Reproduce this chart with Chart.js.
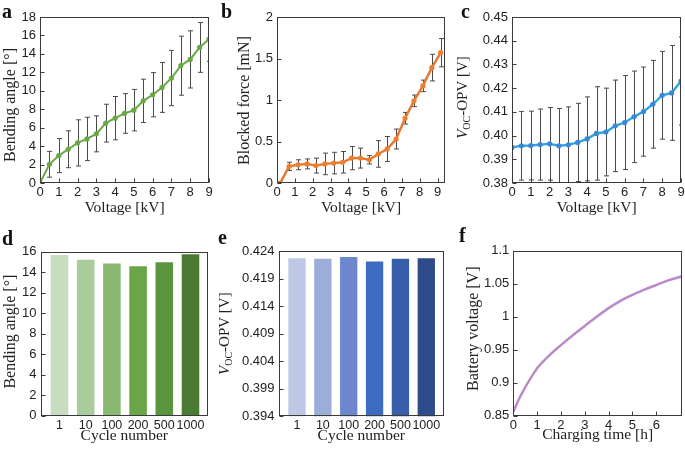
<!DOCTYPE html>
<html>
<head>
<meta charset="utf-8">
<script src="https://cdn.jsdelivr.net/npm/chart.js@4.4.1/dist/chart.umd.min.js"></script>
<style>
  body { margin: 0; background: #fff; }
  #wrap { position: relative; width: 685px; height: 450px; overflow: hidden; }
  #wrap canvas { position: absolute; left: 0; top: 0; }
  .tag { position: absolute; font: bold 20px "Liberation Serif", serif; line-height: 1; color: #111; }
</style>
</head>
<body>
<div id="wrap">
  <canvas id="ca" width="685" height="450"></canvas>
  <canvas id="cb" width="685" height="450"></canvas>
  <canvas id="cc" width="685" height="450"></canvas>
  <canvas id="cd" width="685" height="450"></canvas>
  <canvas id="ce" width="685" height="450"></canvas>
  <canvas id="cf" width="685" height="450"></canvas>
  <div class="tag" style="left:2px;top:1px">a</div>
  <div class="tag" style="left:221px;top:1px">b</div>
  <div class="tag" style="left:461px;top:1px">c</div>
  <div class="tag" style="left:2px;top:228px">d</div>
  <div class="tag" style="left:218px;top:227px">e</div>
  <div class="tag" style="left:459px;top:225px">f</div>
</div>
<script>
// ---- data ----
// a: bending angle vs voltage
const aX = [0, 0.5, 1, 1.5, 2, 2.5, 3, 3.5, 4, 4.5, 5, 5.5, 6, 6.5, 7, 7.5, 8, 8.5, 9];
const aY = [0, 2.03, 2.97, 3.66, 4.35, 4.78, 5.33, 6.49, 7.03, 7.54, 7.9, 8.91, 9.57, 10.36, 11.38, 12.72, 13.4, 14.7, 15.6];
const aErr = [0, 1.4, 1.85, 2.0, 2.5, 2.35, 1.95, 2.05, 2.35, 2.15, 2.25, 2.35, 2.4, 2.7, 3.0, 3.2, 3.1, 2.7, 2.4];
const aXTicks = [0, 1, 2, 3, 4, 5, 6, 7, 8, 9];
const aYTicks = [0, 2, 4, 6, 8, 10, 12, 14, 16, 18];

// b: blocked force vs voltage
const bX = [0.18, 0.68, 1.18, 1.68, 2.18, 2.68, 3.18, 3.68, 4.18, 4.68, 5.18, 5.68, 6.18, 6.68, 7.18, 7.68, 8.18, 8.68, 9.18];
const bY = [0, 0.2, 0.22, 0.23, 0.21, 0.23, 0.24, 0.25, 0.3, 0.3, 0.28, 0.35, 0.41, 0.53, 0.78, 0.99, 1.17, 1.39, 1.57];
const bErr = [0, 0.05, 0.06, 0.06, 0.09, 0.13, 0.13, 0.13, 0.14, 0.12, 0.05, 0.16, 0.15, 0.12, 0.07, 0.07, 0.07, 0.16, 0.17];
const bXTicks = [0, 1, 2, 3, 4, 5, 6, 7, 8, 9];
const bYTicks = [0, 0.5, 1, 1.5, 2];

// c: Voc of OPV vs voltage
const cX = [0, 0.5, 1, 1.5, 2, 2.5, 3, 3.5, 4, 4.5, 5, 5.5, 6, 6.5, 7, 7.5, 8, 8.5, 9];
const cY = [0.395, 0.3957, 0.3958, 0.3962, 0.3965, 0.3957, 0.3961, 0.3971, 0.3986, 0.4009, 0.4015, 0.4041, 0.4055, 0.4079, 0.4101, 0.4132, 0.417, 0.418, 0.423];
const cErr = [0, 0.0145, 0.0145, 0.015, 0.0153, 0.0157, 0.016, 0.0165, 0.0177, 0.0197, 0.0185, 0.0193, 0.0198, 0.0193, 0.0188, 0.0185, 0.0185, 0.02, 0.0186];
const cXTicks = [0, 1, 2, 3, 4, 5, 6, 7, 8, 9];
const cYTicks = [0.38, 0.39, 0.40, 0.41, 0.42, 0.43, 0.44, 0.45];

// d, e: after cycling
const cycles = ['1', '10', '100', '200', '500', '1000'];
const dY = [15.67, 15.19, 14.83, 14.57, 14.96, 15.74];
const dYTicks = [0, 2, 4, 6, 8, 10, 12, 14, 16];
const eY = [0.4227, 0.4226, 0.4229, 0.4221, 0.4226, 0.4227];
const eYTicks = [0.394, 0.399, 0.404, 0.409, 0.414, 0.419, 0.424];
const dColors = ['#c8dcbf', '#aacb9b', '#89b871', '#6aa547', '#5a943f', '#4b7a33'];
const eColors = ['#bec8e6', '#9cadd9', '#6c87cb', '#3c6bbf', '#395ea9', '#2e4b8b'];

// f: battery charging
const fX = [0, 0.25, 0.5, 0.75, 1, 1.5, 2, 2.5, 3, 3.5, 4, 4.5, 5, 5.5, 6, 6.5, 7.05];
const fY = [0.856, 0.876, 0.893, 0.908, 0.922, 0.941, 0.957, 0.972, 0.986, 1.0, 1.013, 1.024, 1.033, 1.041, 1.048, 1.055, 1.061];
const fXTicks = [0, 1, 2, 3, 4, 5, 6];
const fYTicks = [0.85, 0.9, 0.95, 1, 1.05, 1.1];

const serif = '"Liberation Serif", "Times New Roman", serif';
const tickFont = { family: '"Liberation Sans", Arial, sans-serif', size: 13 };
const titleFont = { family: serif, size: 15.5 };
const ink = '#222';

// y titles: [font, text, baseline shift]
const plainTitle = t => [['16px ' + serif, t, 0]];
const vocTitle = [
  ['italic 15px ' + serif, 'V', 0],
  ['10px ' + serif, 'OC', 3],
  ['15px ' + serif, '-OPV [V]', 0]
];

// box + inward tick marks
const frameTicks = {
  id: 'frameTicks',
  afterDraw(chart) {
    const { ctx, chartArea: a, scales } = chart;
    const L = Math.round(a.left) + 0.5, T = Math.round(a.top) + 0.5;
    const R = Math.round(a.right) - 0.5, B = Math.round(a.bottom) - 0.5;
    ctx.save();
    ctx.strokeStyle = '#3a3a3a';
    ctx.lineWidth = 1;
    ctx.strokeRect(L, T, R - L, B - T);
    ctx.beginPath();
    scales.y.ticks.forEach((t, i) => {
      const p = Math.round(scales.y.getPixelForTick(i)) + 0.5;
      ctx.moveTo(L, p); ctx.lineTo(L + 4, p);
    });
    if (chart.config.type === 'line') {
      scales.x.ticks.forEach((t, i) => {
        const p = Math.round(scales.x.getPixelForTick(i)) + 0.5;
        ctx.moveTo(p, B); ctx.lineTo(p, B - 4);
      });
    }
    ctx.stroke();
    ctx.restore();
  }
};

// vertical error bars
const errorBars = {
  id: 'errorBars',
  beforeDatasetsDraw(chart, args, opts) {
    if (!opts.err) return;
    const { ctx, chartArea: a, scales: { x, y } } = chart;
    const pts = chart.data.datasets[0].data;
    ctx.save();
    ctx.beginPath();
    ctx.rect(a.left, a.top, a.right - a.left, a.bottom - a.top);
    ctx.clip();
    ctx.strokeStyle = '#4a4a4a';
    ctx.lineWidth = 1;
    ctx.beginPath();
    pts.forEach((pt, i) => {
      const e = opts.err[i];
      if (!e) return;
      const px = Math.round(x.getPixelForValue(pt.x)) + 0.5;
      const top = y.getPixelForValue(pt.y + e);
      const bot = y.getPixelForValue(pt.y - e);
      ctx.moveTo(px, top); ctx.lineTo(px, bot);
      ctx.moveTo(px - 2.5, top); ctx.lineTo(px + 2.5, top);
      ctx.moveTo(px - 2.5, bot); ctx.lineTo(px + 2.5, bot);
    });
    ctx.stroke();
    ctx.restore();
  }
};

// rotated y title (allows italic / subscript parts)
const yTitle = {
  id: 'yTitle',
  afterDraw(chart, args, opts) {
    if (!opts.parts) return;
    const { ctx, chartArea: a } = chart;
    ctx.save();
    const widths = opts.parts.map(p => { ctx.font = p[0]; return ctx.measureText(p[1]).width; });
    const total = widths.reduce((s, w) => s + w, 0);
    ctx.translate(opts.x, (a.top + a.bottom) / 2 + (opts.dy || 0));
    ctx.rotate(-Math.PI / 2);
    ctx.fillStyle = ink;
    ctx.textBaseline = 'alphabetic';
    let pos = -total / 2;
    opts.parts.forEach((p, i) => {
      ctx.font = p[0];
      ctx.fillText(p[1], pos, 5.2 + p[2]);
      pos += widths[i];
    });
    ctx.restore();
  }
};

Chart.register(frameTicks, errorBars, yTitle);

function fixSize(size, horizontal) {
  return s => {
    if (horizontal) s.height = size; else s.width = size;
    s.paddingLeft = s.paddingRight = s.paddingTop = s.paddingBottom = 0;
  };
}

// box = panel cell [x0, y0, x1, y1]; area = plot frame [L, T, R, B]
function makePanel(id, box, area, o) {
  const [x0, y0, x1, y1] = box;
  const [L, T, R, B] = area;
  return new Chart(document.getElementById(id), {
    type: o.type,
    data: { datasets: o.datasets },
    options: {
      responsive: false,
      animation: false,
      events: [],
      layout: { padding: { left: x0, top: T, right: 685 - R, bottom: 450 - y1 } },
      plugins: {
        legend: { display: false },
        tooltip: { enabled: false },
        errorBars: { err: o.err },
        yTitle: { parts: o.yTitle, x: o.yTitleX, dy: o.yTitleDy }
      },
      scales: {
        x: {
          type: 'linear', min: o.xMin, max: o.xMax, offset: false,
          grid: { display: false, drawTicks: false }, border: { display: false },
          afterFit: fixSize(y1 - B, true),
          afterBuildTicks: s => { s.ticks = o.xTicks.map(v => ({ value: v })); },
          ticks: { font: o.xFont || tickFont, color: ink, padding: 2, maxRotation: 0, autoSkip: false, callback: o.xFmt || (v => String(v)) },
          title: { display: true, text: o.xTitle, font: titleFont, color: ink, padding: { top: 0, bottom: o.xPad } }
        },
        y: {
          type: 'linear', min: o.yMin, max: o.yMax,
          grid: { display: false, drawTicks: false }, border: { display: false },
          afterFit: fixSize(L - x0, false),
          afterBuildTicks: s => { s.ticks = o.yTicks.map(v => ({ value: v })); },
          ticks: { font: tickFont, color: ink, padding: 4, autoSkip: false, callback: o.yFmt || (v => String(v)) }
        }
      }
    }
  });
}

function lineSet(xs, ys, color, pointColor, width, radius) {
  return {
    data: xs.map((x, i) => ({ x, y: ys[i] })),
    borderColor: color, backgroundColor: pointColor,
    pointBackgroundColor: pointColor, pointBorderWidth: 0,
    borderWidth: width, pointRadius: radius, tension: 0
  };
}

function barSet(ys, colors) {
  return {
    data: ys.map((y, i) => ({ x: i + 1, y })),
    backgroundColor: colors, borderWidth: 0,
    barPercentage: 0.67, categoryPercentage: 1
  };
}

const cycleFmt = v => cycles[v - 1] || '';

makePanel('ca', [0, 0, 225, 225], [40, 17, 209, 183], {
  type: 'line', datasets: [lineSet(aX, aY, '#69a845', '#69a845', 2, 2.6)], err: aErr,
  xMin: 0, xMax: 9, xTicks: aXTicks, yMin: 0, yMax: 18, yTicks: aYTicks,
  xTitle: 'Voltage [kV]', xPad: 8,
  yTitle: plainTitle('Bending angle [°]'), yTitleX: 9.5, yTitleDy: 5
});

makePanel('cb', [225, 0, 455, 225], [277, 17, 445, 183], {
  type: 'line', datasets: [lineSet(bX, bY, '#e8772e', '#ec7f2e', 2.4, 2.6)], err: bErr,
  xMin: 0, xMax: 9.42, xTicks: bXTicks, yMin: 0, yMax: 2, yTicks: bYTicks,
  xTitle: 'Voltage [kV]', xPad: 8,
  yTitle: plainTitle('Blocked force [mN]'), yTitleX: 243.5, yTitleDy: 0.5
});

makePanel('cc', [455, 0, 685, 225], [512, 17, 682, 183], {
  type: 'line', datasets: [lineSet(cX, cY, '#2ba6e2', '#3f86d8', 2.4, 2.6)], err: cErr,
  xMin: 0, xMax: 9, xTicks: cXTicks, yMin: 0.38, yMax: 0.45, yTicks: cYTicks, yFmt: v => v.toFixed(2),
  xTitle: 'Voltage [kV]', xPad: 8,
  yTitle: vocTitle, yTitleX: 462, yTitleDy: -2.5
});

makePanel('cd', [0, 225, 225, 450], [40.5, 251.5, 208, 415.7], {
  type: 'bar', datasets: [barSet(dY, dColors)],
  xMin: 0.275, xMax: 6.668, xTicks: [1, 2, 3, 4, 5, 6], xFmt: cycleFmt,
  xFont: { family: tickFont.family, size: 12.5 },
  yMin: 0, yMax: 16, yTicks: dYTicks,
  xTitle: 'Cycle number', xPad: 4.5,
  yTitle: plainTitle('Bending angle [°]'), yTitleX: 10, yTitleDy: -2
});

makePanel('ce', [215, 225, 455, 450], [278.5, 251, 444, 416.3], {
  type: 'bar', datasets: [barSet(eY, eColors)],
  xMin: 0.285, xMax: 6.685, xTicks: [1, 2, 3, 4, 5, 6], xFmt: cycleFmt,
  xFont: { family: tickFont.family, size: 12.5 },
  yMin: 0.394, yMax: 0.424, yTicks: eYTicks, yFmt: v => v.toFixed(3),
  xTitle: 'Cycle number', xPad: 4.5,
  yTitle: vocTitle, yTitleX: 224, yTitleDy: 0
});

const fSet = lineSet(fX, fY, '#bb8ac9', '#bb8ac9', 2.5, 0);
fSet.cubicInterpolationMode = 'monotone';
makePanel('cf', [455, 225, 685, 450], [513.3, 250.7, 682, 415.7], {
  type: 'line', datasets: [fSet],
  xMin: 0, xMax: 7.08, xTicks: fXTicks, yMin: 0.85, yMax: 1.1, yTicks: fYTicks,
  xTitle: 'Charging time [h]', xPad: 6,
  yTitle: plainTitle('Battery voltage [V]'), yTitleX: 473, yTitleDy: -4.5
});
</script>
</body>
</html>
